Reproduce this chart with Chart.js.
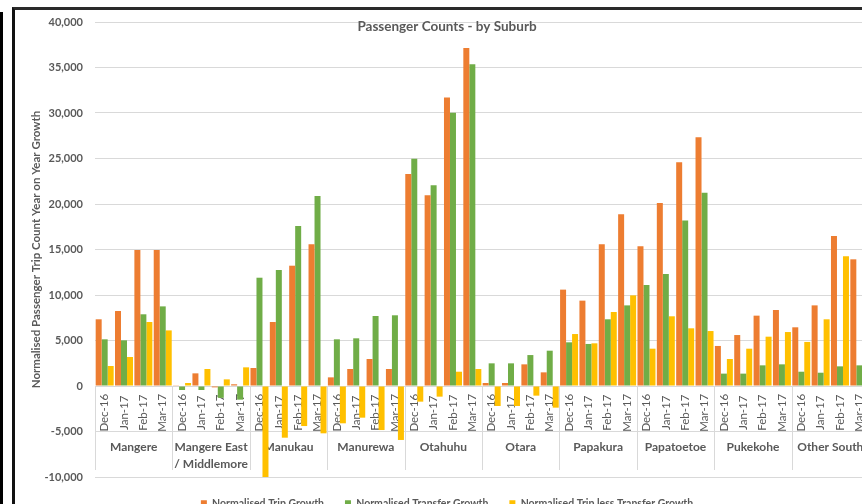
<!DOCTYPE html>
<html>
<head>
<meta charset="utf-8">
<script src="https://cdn.jsdelivr.net/npm/chart.js@4.4.1/dist/chart.umd.min.js"></script>
<style>
  html, body { margin: 0; padding: 0; background: #fff; overflow: hidden; width: 862px; height: 504px; }
  #outer { position: absolute; left: 0; top: 12px; width: 3px; height: 500px; background: #000; }
  #frame { position: absolute; left: 12px; top: 7px; width: 900px; height: 520px; border-left: 3px solid #111; border-top: 3px solid #2a2a2a; }
  #wrap { position: absolute; left: 15px; top: 10px; width: 866px; height: 520px; }
</style>
</head>
<body>
<div id="outer"></div>
<div id="frame"></div>
<div id="wrap"><canvas id="c" width="866" height="520"></canvas></div>
<script>
const suburbs = ['Mangere', ['Mangere East', '/ Middlemore'], 'Manukau', 'Manurewa', 'Otahuhu', 'Otara', 'Papakura', 'Papatoetoe', 'Pukekohe', 'Other South'];
const months = ['Dec-16', 'Jan-17', 'Feb-17', 'Mar-17'];
const yTicks = [-10000, -5000, 0, 5000, 10000, 15000, 20000, 25000, 30000, 35000, 40000];

const tripGrowth = [
  7330, 8240, 14950, 14950,
  30, 1390, -150, 190,
  1980, 7030, 13220, 15570,
  950, 1870, 2970, 1870,
  23300, 20950, 31690, 37140,
  330, 330, 2380, 1500,
  10590, 9380, 15570, 18870,
  15350, 20110, 24580, 27330,
  4400, 5600, 7730, 8350,
  6450, 8860, 16480, 13920
];
const transferGrowth = [
  5130, 5020, 7880, 8750,
  -440, -440, -1300, -1500,
  11900, 12750, 17580, 20880,
  5130, 5240, 7690, 7770,
  24980, 22050, 30040, 35350,
  2490, 2490, 3400, 3880,
  4800, 4620, 7330, 8860,
  11100, 12310, 18200, 21250,
  1360, 1360, 2270, 2380,
  1570, 1460, 2160, 2270
];
const tripLessTransfer = [
  2200, 3190, 7030, 6110,
  330, 1870, 730, 2050,
  -10100, -5680, -4400, -5200,
  -4100, -3480, -4840, -5930,
  -1720, -1170, 1570, 1870,
  -2200, -2200, -1060, -2380,
  5710, 4690, 8130, 9960,
  4100, 7660, 6340, 6040,
  2970, 4100, 5420, 5930,
  4840, 7330, 14250, 11610
];

const labels = [];
suburbs.forEach(() => months.forEach(m => labels.push(m)));

const FONT = 'Lato, "Open Sans", sans-serif';
const GREY = '#595959';
const GRID = '#d9d9d9';

const multiLevelAxis = {
  id: 'multiLevelAxis',
  beforeDatasetsDraw(chart) {
    const x = chart.scales.x, y = chart.scales.y, ctx = chart.ctx;
    const n = labels.length;
    const slot = x.width / n;
    const y0 = y.getPixelForValue(0);
    const yMid = y.getPixelForValue(-5000);
    const yBot = y.getPixelForValue(-10000);
    ctx.save();
    ctx.fillStyle = GREY;
    ctx.font = '11.5px ' + FONT;
    ctx.textAlign = 'center';
    ctx.textBaseline = 'middle';
    labels.forEach((lab, i) => {
      const cx = x.getPixelForValue(i);
      ctx.save();
      ctx.translate(cx, (y0 + yMid) / 2 + 4);
      ctx.rotate(-Math.PI / 2);
      ctx.fillText(lab, 0, 0);
      ctx.restore();
    });
    ctx.strokeStyle = GRID;
    ctx.lineWidth = 1;
    for (let g = 0; g <= suburbs.length; g++) {
      const idx = g * months.length;
      const px = Math.round(x.getPixelForValue(Math.min(idx, n - 1)) + (idx >= n ? slot / 2 : -slot / 2)) + 0.5;
      ctx.beginPath();
      ctx.moveTo(px, y0);
      ctx.lineTo(px, yBot - 7);
      ctx.stroke();
    }
    ctx.font = 'bold 12px ' + FONT;
    ctx.fillStyle = GREY;
    suburbs.forEach((s, g) => {
      const first = x.getPixelForValue(g * months.length);
      const last = x.getPixelForValue(g * months.length + months.length - 1);
      const cx = (first + last) / 2;
      const lines = Array.isArray(s) ? s : [s];
      lines.forEach((t, k) => ctx.fillText(t, cx, yMid + 16 + k * 17));
    });
    ctx.restore();
  }
};

new Chart(document.getElementById('c'), {
  type: 'bar',
  data: {
    labels: labels,
    datasets: [
      { label: 'Normalised Trip Growth', data: tripGrowth, backgroundColor: '#ED7D31' },
      { label: 'Normalised Transfer Growth', data: transferGrowth, backgroundColor: '#70AD47' },
      { label: 'Normalised Trip less Transfer Growth', data: tripLessTransfer, backgroundColor: '#FFC000' }
    ]
  },
  options: {
    responsive: false,
    animation: false,
    devicePixelRatio: 1,
    layout: { padding: { left: 10, right: 12, top: 0, bottom: 11.5 } },
    datasets: { bar: { categoryPercentage: 0.93, barPercentage: 1, borderWidth: 0 } },
    plugins: {
      tooltip: { enabled: false },
      title: {
        display: true,
        text: 'Passenger Counts - by Suburb',
        color: GREY,
        font: { family: FONT, size: 13.5, weight: 'bold' },
        padding: { top: 9, bottom: -13.2 }
      },
      legend: {
        position: 'bottom',
        labels: {
          color: GREY,
          font: { family: FONT, size: 10.5, weight: 'bold' },
          boxWidth: 6,
          boxHeight: 6,
          padding: 21
        }
      }
    },
    scales: {
      x: { display: false },
      y: {
        min: -10000,
        max: 40000,
        afterBuildTicks: s => { s.ticks = yTicks.map(v => ({ value: v })); },
        afterFit: s => { s.width = 70; },
        grid: { color: GRID, lineWidth: 1, drawTicks: true, tickLength: 12, tickColor: 'rgba(0,0,0,0)' },
        border: { display: false },
        ticks: {
          color: GREY,
          padding: 0,
          font: { family: FONT, size: 11, weight: 'bold' },
          callback: v => v.toLocaleString('en-US')
        },
        title: {
          display: true,
          text: 'Normalised Passenger Trip Count Year on Year Growth',
          color: GREY,
          font: { family: FONT, size: 11.5, weight: 'bold' },
          padding: { top: 4, bottom: 0 }
        }
      }
    }
  },
  plugins: [multiLevelAxis]
});
</script>
</body>
</html>
